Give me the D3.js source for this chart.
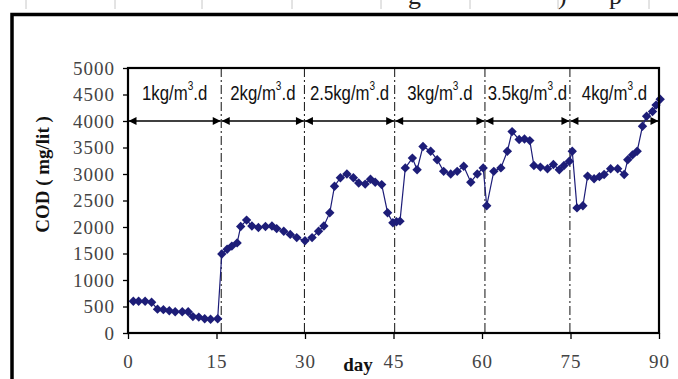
<!DOCTYPE html>
<html lang="en">
  <head>
    <meta charset="utf-8">
    <title>COD vs day</title>
    <script type="text/javascript" src="https://cdnjs.cloudflare.com/ajax/libs/d3/7.8.5/d3.min.js"></script>
    <style>
      body { margin: 0; background: #fff; }
      .tickText { font-family: "Liberation Serif", "Times New Roman", serif; font-size: 19px; fill: #444; letter-spacing: 1px; }
      .axisTitle { font-family: "Liberation Serif", "Times New Roman", serif; font-size: 19px; font-weight: bold; fill: #111; }
      .phase { font-family: "Liberation Sans", Arial, sans-serif; font-size: 20px; fill: #111; }
    </style>
  </head>
  <body>
    <svg id="chart"></svg>
    <script type="text/javascript">

    // DATA
    const days = [0.9, 1.8, 2.9, 4.0, 5.0, 6.0, 7.0, 8.0, 9.2, 10.2, 11.0, 12.0, 13.0, 14.0, 15.2,
      15.9, 16.8, 17.6, 18.5, 19.1, 20.1, 21.0, 22.1, 23.3, 24.4, 25.2, 26.4, 27.5, 28.6, 30.0,
      31.2, 32.3, 33.2, 34.2, 35.0, 36.0, 37.1, 38.2, 39.1, 40.2, 41.1, 41.9, 43.0, 44.0, 44.9,
      45.5, 46.1, 47.0, 48.2, 49.0, 50.0, 51.3, 52.4, 53.5, 54.7, 55.8, 56.9, 58.1, 59.2, 60.2,
      60.8, 62.0, 63.2, 64.3, 65.1, 66.3, 67.2, 68.1, 68.8, 69.9, 71.1, 72.1, 73.1, 73.9, 74.8,
      75.3, 76.1, 77.1, 77.9, 79.0, 79.9, 80.7, 81.8, 83.0, 84.1, 84.7, 85.5, 86.3, 87.2, 87.9,
      88.9, 89.5, 90.2];
    const cod = [600, 600, 600, 580, 450, 440, 420, 400, 400, 400, 310, 300, 270, 260, 270,
      1490, 1580, 1640, 1700, 2010, 2130, 2020, 1990, 2010, 2020, 1970, 1920, 1860, 1800, 1740,
      1800, 1920, 2020, 2270, 2770, 2930, 3000, 2930, 2830, 2810, 2900, 2845, 2800, 2270, 2080,
      2100, 2110, 3115, 3300, 3080, 3520, 3430, 3270, 3050, 3000, 3050, 3145, 2845, 3000, 3115,
      2400, 3050, 3115, 3430, 3800, 3650, 3660, 3630, 3160, 3130, 3100, 3180, 3080, 3160, 3240,
      3430, 2360, 2400, 2960, 2910, 2950, 2990, 3100, 3100, 2990, 3270, 3360, 3430, 3900, 4090,
      4180, 4300, 4410];

    const phaseEdges = [0, 15.8, 29.9, 45.2, 60.5, 74.9, 90];
    const phaseRates = ["1", "2", "2.5", "3", "3.5", "4"];
    const arrowLevel = 4000;

    const xTicks = [0, 15, 30, 45, 60, 75, 90];
    const yTicks = [0, 500, 1000, 1500, 2000, 2500, 3000, 3500, 4000, 4500, 5000];

    // faint scan residue at the top of the page
    const rulerX = [26, 115, 202, 292, 381, 470, 558, 649];
    const cutText = [{x: 408, t: "g"}, {x: 558, t: ")"}, {x: 609, t: "p"}];

    // DIMENSIONS
    const width = 678, height = 379;
    const plot = {left: 128, right: 659, top: 68, bottom: 333};
    const navy = '#1d1d78';

    const svg = d3.select('#chart')
      .attr('width', width)
      .attr('height', height);

    const x = d3.scaleLinear().domain([0, 90]).range([plot.left, plot.right]);
    const y = d3.scaleLinear().domain([0, 5000]).range([plot.bottom, plot.top]);

    // page residue
    svg.append('g').selectAll('line')
      .data(rulerX)
      .join('line')
      .attr('x1', d => d).attr('x2', d => d)
      .attr('y1', 0).attr('y2', 9)
      .style('stroke', '#c8c8c8').style('stroke-width', 1);
    svg.append('g').selectAll('text')
      .data(cutText)
      .join('text')
      .attr('x', d => d.x)
      .attr('y', 4)
      .text(d => d.t)
      .style('font-family', '"Liberation Serif", serif')
      .style('font-size', '26px')
      .style('fill', '#222');

    // outer frame (top and left edges)
    svg.append('path')
      .attr('d', `M12,${height}V14.5H${width}`)
      .style('fill', 'none')
      .style('stroke', '#000')
      .style('stroke-width', 3.5);

    // arrow marker
    svg.append('defs').append('marker')
      .attr('id', 'arr')
      .attr('viewBox', '0 0 10 10')
      .attr('refX', 10).attr('refY', 5)
      .attr('markerWidth', 9).attr('markerHeight', 8)
      .attr('markerUnits', 'userSpaceOnUse')
      .attr('orient', 'auto-start-reverse')
      .append('path')
      .attr('d', 'M0,0L10,5L0,10z')
      .style('fill', '#000');

    // vertical phase separators
    svg.append('g').selectAll('line')
      .data(phaseEdges.slice(1, -1))
      .join('line')
      .attr('x1', d => x(d)).attr('x2', d => x(d))
      .attr('y1', plot.top).attr('y2', plot.bottom)
      .style('stroke', '#111')
      .style('stroke-width', 1)
      .style('stroke-dasharray', '9,3,2,3');

    // double arrows at 4000
    const phases = phaseRates.map((r, i) => ({rate: r, a: phaseEdges[i], b: phaseEdges[i + 1]}));

    svg.append('g').selectAll('line')
      .data(phases)
      .join('line')
      .attr('x1', d => x(d.a) + 0.5).attr('x2', d => x(d.b) - 0.5)
      .attr('y1', y(arrowLevel)).attr('y2', y(arrowLevel))
      .style('stroke', '#000')
      .style('stroke-width', 1.3)
      .attr('marker-start', 'url(#arr)')
      .attr('marker-end', 'url(#arr)');

    // phase labels, squeezed to look like a narrow face
    const lab = svg.append('g').selectAll('text')
      .data(phases)
      .join('text')
      .attr('class', 'phase')
      .attr('transform', d => `translate(${(x(d.a) + x(d.b)) / 2},100) scale(0.84,1)`)
      .attr('text-anchor', 'middle');
    lab.append('tspan').text(d => d.rate + 'kg/m');
    lab.append('tspan').text('3').attr('dy', -10).style('font-size', '12px');
    lab.append('tspan').text('.d').attr('dy', 10);

    // series
    const pts = days.map((d, i) => ({day: d, v: cod[i]}));

    svg.append('path')
      .datum(pts)
      .attr('d', d3.line().x(d => x(d.day)).y(d => y(d.v)))
      .style('fill', 'none')
      .style('stroke', navy)
      .style('stroke-width', 1.2);

    svg.append('g').selectAll('path')
      .data(pts)
      .join('path')
      .attr('d', d3.symbol().type(d3.symbolSquare).size(44))
      .attr('transform', d => `translate(${x(d.day)},${y(d.v)}) rotate(45)`)
      .style('fill', navy);

    // axes
    const yAxis = svg.append('g')
      .attr('transform', `translate(${plot.left},0)`)
      .call(d3.axisLeft(y).tickValues(yTicks).tickFormat(d3.format('d')).tickSize(5).tickPadding(8));
    const xAxis = svg.append('g')
      .attr('transform', `translate(0,${plot.bottom})`)
      .call(d3.axisBottom(x).tickValues(xTicks).tickFormat(d3.format('d')).tickSize(6).tickPadding(16));

    [yAxis, xAxis].forEach(g => {
      g.select('.domain').remove();
      g.selectAll('line').style('stroke', '#000').style('stroke-width', 1.3);
      g.selectAll('text').attr('class', 'tickText').attr('font-family', null).attr('font-size', null);
    });

    // plot frame
    svg.append('rect')
      .attr('x', plot.left).attr('y', plot.top)
      .attr('width', plot.right - plot.left)
      .attr('height', plot.bottom - plot.top)
      .style('fill', 'none')
      .style('stroke', '#000')
      .style('stroke-width', 2.2);

    // titles
    svg.append('text')
      .attr('class', 'axisTitle')
      .attr('transform', `translate(49,${(plot.top + plot.bottom) / 2 - 26}) rotate(-90)`)
      .attr('text-anchor', 'middle')
      .text('COD ( mg/lit )');

    svg.append('text')
      .attr('class', 'axisTitle')
      .attr('x', 358)
      .attr('y', 371)
      .attr('text-anchor', 'middle')
      .text('day');

    </script>
  </body>
</html>
